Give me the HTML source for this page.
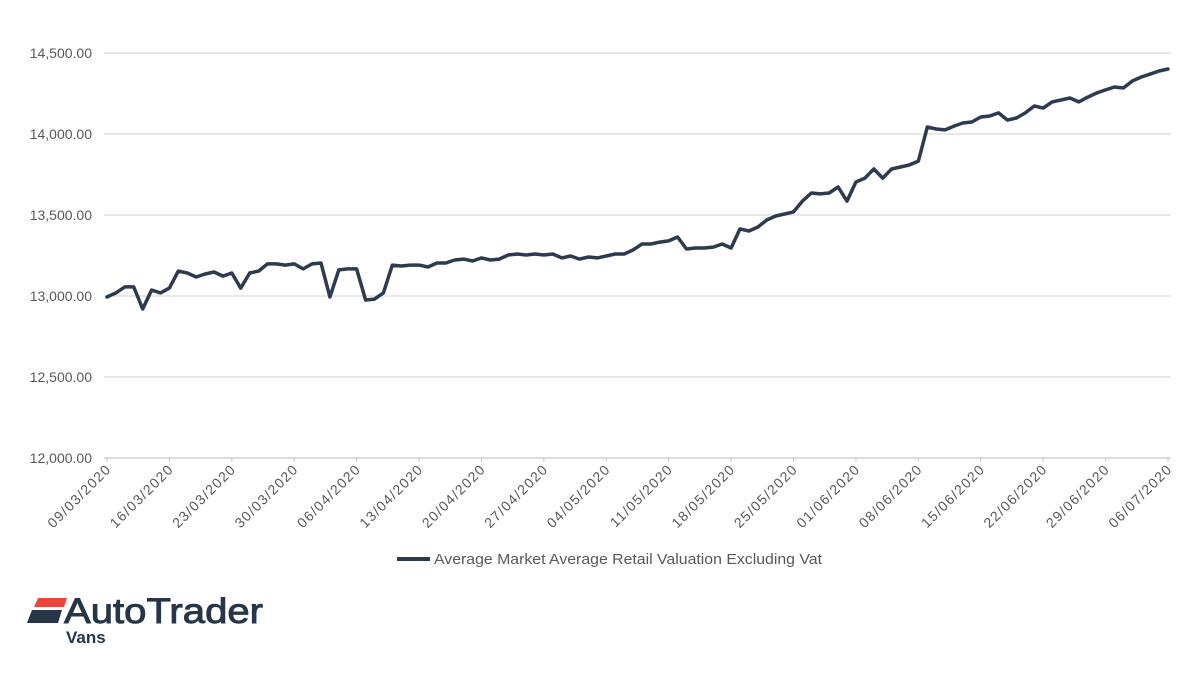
<!DOCTYPE html>
<html><head><meta charset="utf-8"><style>
body{margin:0;background:#fff;width:1200px;height:675px;overflow:hidden}
svg{display:block}
text{font-family:"Liberation Sans",sans-serif}
</style></head><body>
<svg id="chart" width="1200" height="675">
<g id="grid"></g>
<g id="yticks"></g>
<g id="xticks"></g>
<g id="series"></g>
<g>
<line x1="397" y1="559" x2="430" y2="559" stroke="#2e3a4f" stroke-width="4"/>
<text x="434" y="564" font-size="14.5" fill="#595959" textLength="388" lengthAdjust="spacingAndGlyphs">Average Market Average Retail Valuation Excluding Vat</text>
</g>
<g>
<polygon points="38,598 67,598 64,607 34,607" fill="#e8473b"/>
<polygon points="32,610 62,610 58,623 27,623" fill="#263648"/>
<text x="64" y="623" font-size="35" fill="#263648" stroke="#263648" stroke-width="0.9" textLength="199" lengthAdjust="spacingAndGlyphs">AutoTrader</text>
<text x="66" y="643" font-size="17" font-weight="bold" fill="#263648">Vans</text>
</g>
</svg>
<script>
const tickLabels = ["09/03/2020","16/03/2020","23/03/2020","30/03/2020","06/04/2020","13/04/2020","20/04/2020","27/04/2020","04/05/2020","11/05/2020","18/05/2020","25/05/2020","01/06/2020","08/06/2020","15/06/2020","22/06/2020","29/06/2020","06/07/2020"];
const yTicks = [12000,12500,13000,13500,14000,14500];
const values = [12994,13019,13056,13056,12920,13037,13019,13049,13154,13142,13117,13136,13148,13123,13142,13049,13142,13154,13198,13198,13191,13198,13167,13198,13204,12994,13161,13167,13167,12975,12981,13019,13191,13185,13191,13191,13179,13204,13204,
13222,13228,13216,13235,13222,13228,13253,13259,13253,13259,13253,13259,13235,13247,13228,13241,13235,13247,13259,13259,13284,13321,13321,13333,13340,13364,13290,13296,13296,13302,13321,13296,13414,13401,13426,13469,13494,13506,13519,
13586,13636,13630,13636,13673,13586,13704,13728,13784,13728,13784,13796,13809,13833,14043,14031,14025,14049,14068,14074,14105,14111,14130,14086,14099,14130,14173,14160,14198,14210,14222,14198,14228,14253,14272,14290,14284,14327,14352,14370,14389,14401];
const NS="http://www.w3.org/2000/svg";
const x0=107,x1=1168,yTop=53,yBot=458;
function xs(i){return x0+i*(x1-x0)/(values.length-1);}
function ys(v){return yBot-(v-12000)/(14500-12000)*(yBot-yTop);}
function mk(t,a,p){const e=document.createElementNS(NS,t);for(const k in a)e.setAttribute(k,a[k]);p.appendChild(e);return e;}
const grid=document.getElementById('grid'),yt=document.getElementById('yticks'),xt=document.getElementById('xticks'),se=document.getElementById('series');
yTicks.forEach(v=>{
 const l=mk('line',{x1:104,x2:1171,y1:ys(v),y2:ys(v),stroke:v===12000?'#c8c8c8':'#d9d9d9','stroke-width':1.3},grid);
 
 
 const t=mk('text',{x:92,y:ys(v)+5,'text-anchor':'end','font-size':14,fill:'#595959'},yt);
 t.textContent=v.toLocaleString('en-US',{minimumFractionDigits:2});
 
 
});
tickLabels.forEach((s,k)=>{
 const x=xs(k*7);
 const tk=mk('line',{x1:x,x2:x,y1:yBot,y2:yBot+4,stroke:'#c8c8c8'},xt);
 
 
 const ax=x+5,ay=yBot+12;
 const t=mk('text',{x:ax,y:ay,'text-anchor':'end','font-size':14,'letter-spacing':'1.3',fill:'#595959',transform:`rotate(-45 ${ax} ${ay})`},xt);
 t.textContent=s;
 
 
});
const p=mk('polyline',{points:values.map((v,i)=>xs(i).toFixed(1)+','+ys(v).toFixed(1)).join(' '),fill:'none',stroke:'#2e3a4f','stroke-width':3.5,'stroke-linejoin':'round','stroke-linecap':'round'},se);


</script>
</body></html>
